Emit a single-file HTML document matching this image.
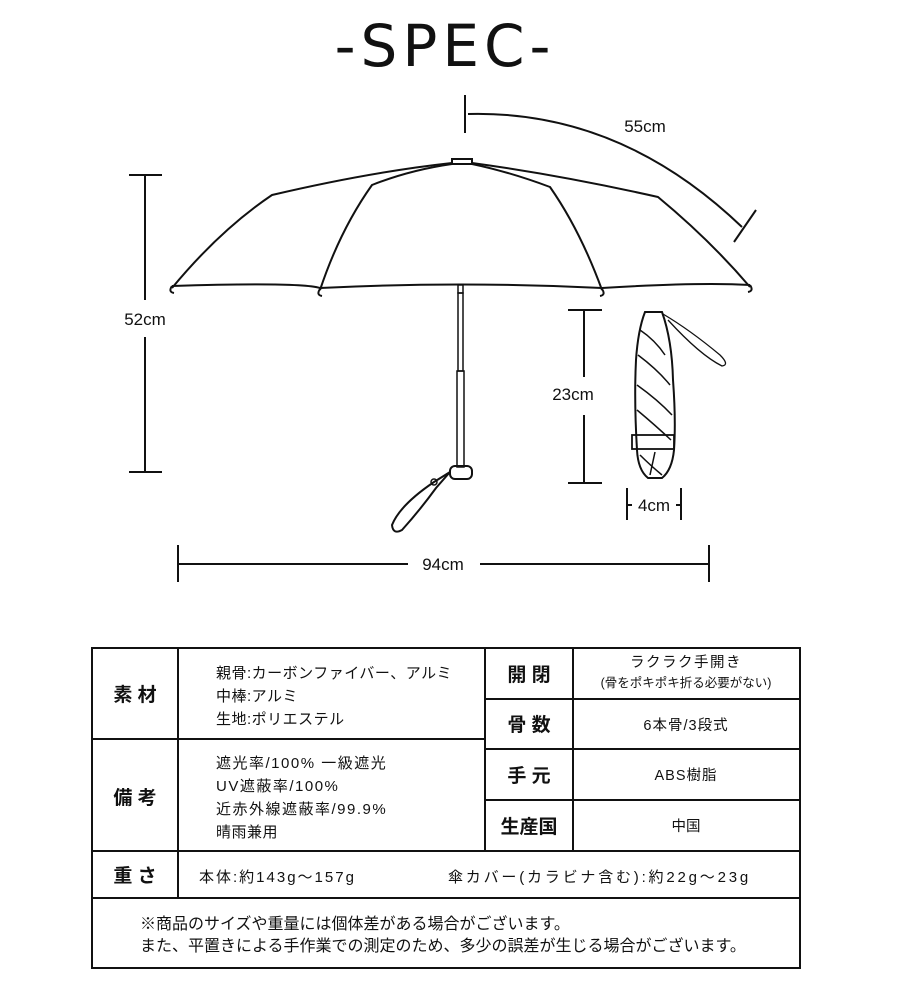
<!DOCTYPE html>
<html><head><meta charset="utf-8"><style>
html,body{margin:0;padding:0;background:#fff;}
svg{display:block;}
text{font-family:"Liberation Sans","Noto Sans CJK JP",sans-serif;fill:#111;}
</style></head><body>
<svg width="916" height="1000" viewBox="0 0 916 1000" xmlns="http://www.w3.org/2000/svg">
<text x="445" y="66" text-anchor="middle" font-size="58" letter-spacing="5" style="font-family:'DejaVu Sans','Liberation Sans',sans-serif">-SPEC-</text>

<g fill="none" stroke="#111" stroke-width="2">
<path d="M172,288 Q220,230 272,195 Q370,172 452,163"/>
<path d="M472,163 Q560,175 658,197 Q710,240 750,287"/>
<path d="M320,290 Q340,230 372,185 Q410,170 452,164"/>
<path d="M602,290 Q580,230 550,187 Q510,172 472,164"/>
<path d="M172,286 Q300,282 320,288 Q460,281 602,288 Q700,282 750,285"/>
<path d="M172,286 q-4,6 2,7 M320,289 q-4,6 2,7 M602,289 q4,6 -2,7 M750,285 q4,6 -2,7"/>
<rect x="452" y="159" width="20" height="5"/>
<rect x="458" y="285" width="5" height="8" stroke-width="1.5"/>
<rect x="458" y="293" width="5" height="78" stroke-width="1.5"/>
<rect x="457" y="371" width="7" height="96" stroke-width="1.5"/>
<rect x="450" y="466" width="22" height="13" rx="5"/>
<path d="M450,472 L434,482 Q400,505 392,525 Q393,535 402,530 Q420,510 436,488 Z" stroke-width="2"/>
<circle cx="434" cy="482" r="3" stroke-width="1.5"/>
<line x1="465" y1="95" x2="465" y2="133"/>
<path d="M468,114 Q620,110 742,227"/>
<line x1="734" y1="242" x2="756" y2="210"/>
<line x1="145" y1="175" x2="145" y2="300"/>
<line x1="145" y1="337" x2="145" y2="472"/>
<line x1="129" y1="175" x2="162" y2="175"/>
<line x1="129" y1="472" x2="162" y2="472"/>
<line x1="584" y1="310" x2="584" y2="377"/>
<line x1="584" y1="415" x2="584" y2="483"/>
<line x1="568" y1="310" x2="602" y2="310"/>
<line x1="568" y1="483" x2="602" y2="483"/>
<line x1="627" y1="488" x2="627" y2="520"/>
<line x1="681" y1="488" x2="681" y2="520"/>
<line x1="627" y1="505" x2="632" y2="505"/>
<line x1="676" y1="505" x2="681" y2="505"/>
<line x1="178" y1="545" x2="178" y2="582"/>
<line x1="709" y1="545" x2="709" y2="582"/>
<line x1="178" y1="564" x2="408" y2="564"/>
<line x1="480" y1="564" x2="709" y2="564"/>
<path d="M645,312 L662,312 Q672,340 673,380 Q676,420 674,450 Q672,470 662,478 L648,478 Q638,470 637,450 Q634,400 636,360 Q638,330 645,312 Z"/>
<path d="M640,330 Q655,340 665,355 M638,355 Q658,370 670,385 M637,385 Q658,400 672,415 M637,410 Q655,425 671,440 M640,455 Q650,465 662,475 M655,452 L650,475" stroke-width="1.5"/>
<rect x="632" y="435" width="42" height="14" stroke-width="1.8"/>
<path d="M663,314 Q690,330 720,355 Q730,365 722,366 Q700,355 668,320" stroke-width="1.3"/>
</g>
<g font-size="17" text-anchor="middle" style="font-family:'DejaVu Sans','Liberation Sans',sans-serif">
<text x="645" y="132">55cm</text>
<text x="145" y="325">52cm</text>
<text x="573" y="400">23cm</text>
<text x="654" y="511">4cm</text>
<text x="443" y="570">94cm</text>
</g>

<g fill="none" stroke="#111" stroke-width="2">
<rect x="92" y="648" width="708" height="320"/>
<line x1="178" y1="648" x2="178" y2="898"/>
<line x1="485" y1="648" x2="485" y2="851"/>
<line x1="573" y1="648" x2="573" y2="851"/>
<line x1="92" y1="739" x2="485" y2="739"/>
<line x1="92" y1="851" x2="800" y2="851"/>
<line x1="92" y1="898" x2="800" y2="898"/>
<line x1="485" y1="699" x2="800" y2="699"/>
<line x1="485" y1="749" x2="800" y2="749"/>
<line x1="485" y1="800" x2="800" y2="800"/>
</g>
<g font-size="19" font-weight="bold" text-anchor="middle">
<text x="135" y="701">素 材</text>
<text x="135" y="804">備 考</text>
<text x="135" y="882">重 さ</text>
<text x="529" y="681">開 閉</text>
<text x="529" y="731">骨 数</text>
<text x="529" y="782">手 元</text>
<text x="529" y="833">生産国</text>
</g>
<g font-size="15" letter-spacing="0.5">
<text x="216" y="678">親骨:カーボンファイバー、アルミ</text>
<text x="216" y="701">中棒:アルミ</text>
<text x="216" y="724">生地:ポリエステル</text>
<text x="216" y="768" letter-spacing="1.5">遮光率/100%  一級遮光</text>
<text x="216" y="791" letter-spacing="1.5">UV遮蔽率/100%</text>
<text x="216" y="814" letter-spacing="1.5">近赤外線遮蔽率/99.9%</text>
<text x="216" y="837">晴雨兼用</text>
<text x="199" y="882" letter-spacing="2">本体:約143g～157g</text>
<text x="448" y="882" letter-spacing="2.8">傘カバー(カラビナ含む):約22g～23g</text>
</g>
<g font-size="14.5" text-anchor="middle">
<text x="686" y="667" letter-spacing="1.5">ラクラク手開き</text>
<text x="686" y="687" font-size="12.5">(骨をポキポキ折る必要がない)</text>
<text x="686" y="730" letter-spacing="1">6本骨/3段式</text>
<text x="686" y="780" letter-spacing="1">ABS樹脂</text>
<text x="686" y="831">中国</text>
</g>
<g font-size="16">
<text x="140" y="929">※商品のサイズや重量には個体差がある場合がございます。</text>
<text x="140" y="951">また、平置きによる手作業での測定のため、多少の誤差が生じる場合がございます。</text>
</g>
</svg>
</body></html>
